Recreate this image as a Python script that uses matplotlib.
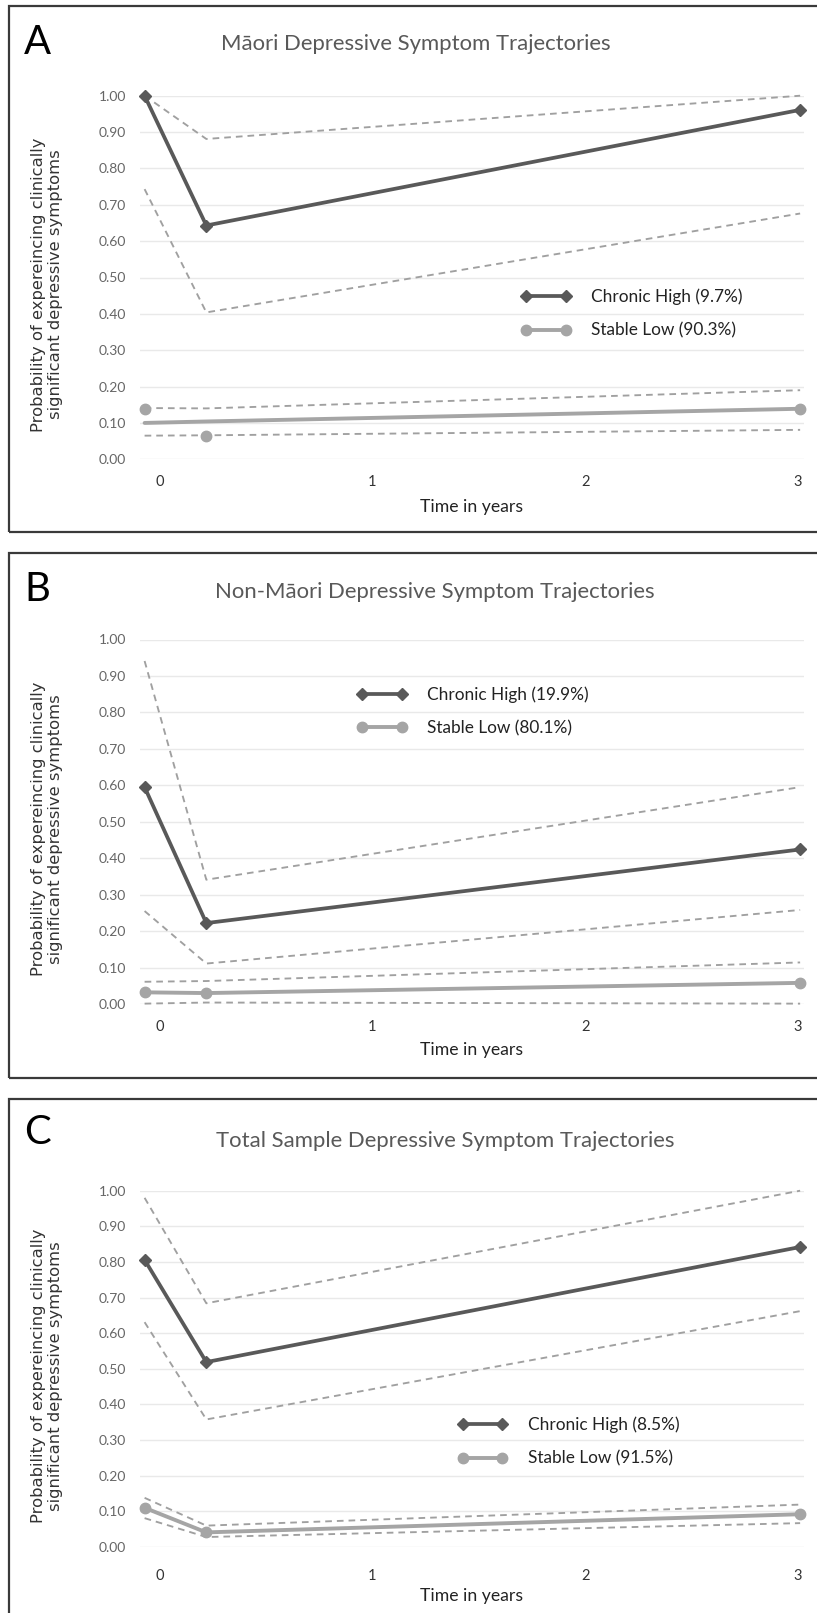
import matplotlib
matplotlib.use("Agg")
import matplotlib.pyplot as plt
import numpy as np
from matplotlib.lines import Line2D
from matplotlib.patches import Rectangle

plt.rcParams['lines.scale_dashes'] = False

# ---------------- data ----------------
times = [-0.07, 0.22, 3.01]          # measurement occasions (years)
x_ticks = [0, 1, 2, 3]
x_tick_labels = ["0", "1", "2", "3"]
y_ticks = [0.0, 0.1, 0.2, 0.3, 0.4, 0.5, 0.6, 0.7, 0.8, 0.9, 1.0]

titles = ["M\u0101ori Depressive Symptom Trajectories",
          "Non-M\u0101ori Depressive Symptom Trajectories",
          "Total Sample Depressive Symptom Trajectories"]
panel_letters = ["A", "B", "C"]
chronic_labels = ["Chronic High (9.7%)", "Chronic High (19.9%)", "Chronic High (8.5%)"]
stable_labels = ["Stable Low (90.3%)", "Stable Low (80.1%)", "Stable Low (91.5%)"]
y_label = "Probability of expereincing clinically\nsignificant depressive symptoms"
x_label = "Time in years"

# Panel A (Maori)
a_chronic = [1.00, 0.643, 0.961]
a_chronic_upper = [1.00, 0.881, 1.00]
a_chronic_lower = [0.743, 0.404, 0.676]
a_stable = [0.100, 0.104, 0.139]
a_stable_markers = [0.139, 0.065, 0.139]
a_stable_upper = [0.141, 0.140, 0.190]
a_stable_lower = [0.065, 0.066, 0.081]

# Panel B (Non-Maori)
b_chronic = [0.595, 0.222, 0.424]
b_chronic_upper = [0.941, 0.341, 0.595]
b_chronic_lower = [0.255, 0.111, 0.258]
b_stable = [0.032, 0.030, 0.058]
b_stable_markers = [0.032, 0.030, 0.058]
b_stable_upper = [0.061, 0.063, 0.114]
b_stable_lower = [0.001, 0.004, 0.001]

# Panel C (Total)
c_chronic = [0.806, 0.519, 0.842]
c_chronic_upper = [0.980, 0.684, 1.00]
c_chronic_lower = [0.631, 0.358, 0.662]
c_stable = [0.110, 0.041, 0.092]
c_stable_markers = [0.110, 0.041, 0.092]
c_stable_upper = [0.138, 0.060, 0.119]
c_stable_lower = [0.081, 0.028, 0.067]

# ---------------- layout ----------------
W, H = 817, 1613
DPI = 100
fig = plt.figure(figsize=(W / DPI, H / DPI), dpi=DPI)
fig.patch.set_facecolor("white")

def fx(px):
    return px / W

def fy(py):
    return 1 - py / H

CAL = ["Lato", "DejaVu Sans"]
YFONT = ["DejaVu Sans"]
DARK = "#595959"
LIGHT = "#a5a5a5"
DASH = "#a0a0a0"

# --- calibrate font sizes so that text widths match the reference ---
renderer = fig.canvas.get_renderer()

def fit_size(text, family, target_px, rotation=0, **kw):
    t = fig.text(0.5, 0.5, text, family=family, fontsize=10, rotation=rotation, **kw)
    bb = t.get_window_extent(renderer)
    size = bb.height if rotation == 90 else bb.width
    t.remove()
    return 10.0 * target_px / size

fs_title = fit_size(titles[0], CAL, 392)
fs_legend = fit_size(chronic_labels[0], CAL, 151)
fs_xlabel = fit_size(x_label, CAL, 103)
fs_ytick = fit_size("1.00", CAL, 27.5)
fs_xtick = fs_ytick * 1.05
fs_letter = fit_size("A", CAL, 27)
fs_ylabel = fit_size(y_label, YFONT, 295, rotation=90, linespacing=1.2)

leg_px = fs_legend * DPI / 72.0

panels = [
    dict(data=(a_chronic, a_chronic_upper, a_chronic_lower, a_stable, a_stable_markers, a_stable_upper, a_stable_lower),
         box=(5.7, 531.7), top=95.7, bottom=459.3, title_y=43.9, title_x=221, letter_y=42.5,
         leg=(521, 313.8), xlab_y=506.8, tickpad=11.0),
    dict(data=(b_chronic, b_chronic_upper, b_chronic_lower, b_stable, b_stable_markers, b_stable_upper, b_stable_lower),
         box=(553.3, 1078.3), top=639.5, bottom=1004.0, title_y=592.3, title_x=215, letter_y=590,
         leg=(357, 711.6), xlab_y=1050, tickpad=11.5),
    dict(data=(c_chronic, c_chronic_upper, c_chronic_lower, c_stable, c_stable_markers, c_stable_upper, c_stable_lower),
         box=(1099.3, 1640), top=1190.7, bottom=1547.0, title_y=1141, title_x=216, letter_y=1132,
         leg=(457.5, 1441.8), xlab_y=1596, tickpad=16.0),
]

AX_L, AX_R = 140, 804
x0_px, x3_px = 159.5, 798.0
ppy = (x3_px - x0_px) / 3.0
xlim = ((AX_L - x0_px) / ppy, (AX_R - x0_px) / ppy)

for i, p in enumerate(panels):
    ch, chu, chl, sl, slm, slu, sll = p["data"]
    # panel frame
    top_b, bot_b = p["box"]
    fig.patches.append(Rectangle((fx(9), fy(bot_b)), fx(W + 20 - 9), (bot_b - top_b) / H,
                                 transform=fig.transFigure, fill=False, lw=1.6,
                                 edgecolor="#3a3a3a", zorder=0))
    ax = fig.add_axes([fx(AX_L), fy(p["bottom"]), (AX_R - AX_L) / W, (p["bottom"] - p["top"]) / H])
    ax.set_xlim(*xlim)
    ax.set_ylim(0, 1)
    for s in ax.spines.values():
        s.set_visible(False)
    ax.set_yticks(y_ticks)
    ax.set_yticklabels([f"{v:.2f}" for v in y_ticks], family=CAL, fontsize=fs_ytick, color="#666666")
    ax.set_xticks(x_ticks)
    ax.set_xticklabels(x_tick_labels, family=CAL, fontsize=fs_xtick, color="#333333")
    ax.tick_params(axis="y", length=0, pad=10)
    ax.tick_params(axis="x", length=0, pad=p["tickpad"])
    ax.yaxis.grid(True, color="#e9e9e9", lw=1.0)
    ax.set_axisbelow(True)

    dash_kw = dict(color=DASH, lw=1.35, dashes=(4.8, 3.6), clip_on=False, zorder=2)
    ax.plot(times, chu, **dash_kw)
    ax.plot(times, chl, **dash_kw)
    ax.plot(times, slu, **dash_kw)
    ax.plot(times, sll, **dash_kw)

    ax.plot(times, sl, color=LIGHT, lw=2.8, clip_on=False, zorder=3, solid_capstyle="round")
    ax.plot(times, slm, ls="none", marker="o", ms=7.5, color=LIGHT, clip_on=False, zorder=4)
    ax.plot(times, ch, color=DARK, lw=2.7, marker="D", ms=6.5, clip_on=False, zorder=5)

    h_ch = Line2D([], [], color=DARK, lw=2.7, marker="D", ms=6.5)
    h_sl = Line2D([], [], color=LIGHT, lw=2.8, marker="o", ms=7.5)
    lx, ly = p["leg"]
    ax.legend([h_ch, h_sl], [chronic_labels[i], stable_labels[i]], loc="center left",
              bbox_to_anchor=(fx(lx), fy(ly)), bbox_transform=fig.transFigure,
              frameon=False, borderpad=0, borderaxespad=0, numpoints=2,
              handlelength=50.0 / leg_px, handletextpad=20.0 / leg_px,
              labelspacing=max(0.2, (36.4 - 1.12 * leg_px) / leg_px),
              prop=dict(family=CAL, size=fs_legend), labelcolor="#222222")

    fig.text(fx(p["title_x"]), fy(p["title_y"]), titles[i], family=CAL, fontsize=fs_title,
             color="#595959", ha="left", va="center")
    fig.text(fx(24), fy(p["letter_y"]), panel_letters[i], family=CAL, fontsize=fs_letter,
             color="black", ha="left", va="center")
    fig.text(fx(471.6), fy(p["xlab_y"]), x_label, family=CAL, fontsize=fs_xlabel,
             color="#222222", ha="center", va="center")
    ymid = (p["top"] + p["bottom"]) / 2 + 7
    fig.text(fx(47), fy(ymid), y_label,
             family=YFONT, fontsize=fs_ylabel, color="#333333", rotation=90,
             ha="center", va="center", multialignment="center", linespacing=1.2)

fig.savefig("out.png", dpi=DPI, facecolor="white")
